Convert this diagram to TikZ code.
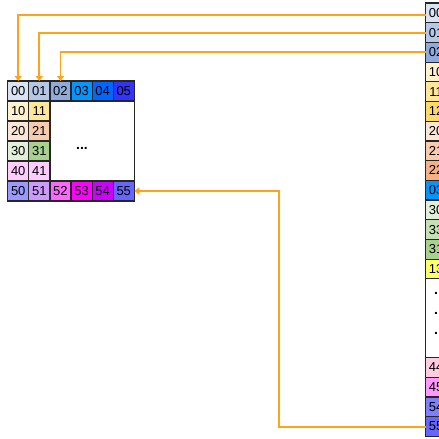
\documentclass[tikz,border=0pt]{standalone}
\usepackage{fontspec}
\setmainfont{Liberation Sans}
\usetikzlibrary{arrows.meta}
\definecolor{cA}{HTML}{DAE3F3}
\definecolor{cB}{HTML}{B4C7E7}
\definecolor{cC}{HTML}{8FAADC}
\definecolor{cD}{HTML}{0095FF}
\definecolor{cE}{HTML}{0066FF}
\definecolor{cF}{HTML}{3333FF}
\definecolor{cG}{HTML}{FFF2CC}
\definecolor{cH}{HTML}{FFE699}
\definecolor{cI}{HTML}{FFD966}
\definecolor{cJ}{HTML}{FBE5D6}
\definecolor{cK}{HTML}{F8CBAD}
\definecolor{cL}{HTML}{F4B183}
\definecolor{cM}{HTML}{E2F0D9}
\definecolor{cN}{HTML}{C5E0B4}
\definecolor{cO}{HTML}{A9D18E}
\definecolor{cP}{HTML}{FFFF66}
\definecolor{cQ}{HTML}{FFCCFF}
\definecolor{cR}{HTML}{FFCCE0}
\definecolor{cS}{HTML}{FF99FF}
\definecolor{cT}{HTML}{9999FF}
\definecolor{cU}{HTML}{CC99FF}
\definecolor{cV}{HTML}{FF66FF}
\definecolor{cW}{HTML}{FF00FF}
\definecolor{cX}{HTML}{CC00FF}
\definecolor{cY}{HTML}{6666FF}
\definecolor{cZ}{HTML}{8080FF}
\definecolor{arrc}{HTML}{FFA31A}
\begin{document}
\begin{tikzpicture}[x=1pt,y=-1pt,
  cellbox/.style={draw=black!85, line width=1.2pt, minimum width=21.1pt,
    inner sep=0pt, outer sep=0pt, anchor=north west,
    font=\fontsize{13}{15}\selectfont},
  lcell/.style={cellbox, minimum height=20pt},
  rcell/.style={cellbox, minimum height=19.7pt},
  arr/.style={draw=arrc, line width=1.9pt, -{Triangle[width=7pt,length=5pt]}}
]
\useasboundingbox[fill=white] (0,0) rectangle (439,439);
% ---------- left grid ----------
\node[lcell, fill=white, minimum width=84.4pt, minimum height=80pt] (Lgap) at (49.9,101) {};
\node[font=\fontsize{14}{15}\selectfont\bfseries] (Ldots) at (82,148.5) {...};
\foreach \c/\col [count=\j from 0] in {00/cA,01/cB,02/cC,03/cD,04/cE,05/cF}
  \node[lcell, fill=\col] (L\c) at ({7.7+21.1*\j},81) {\c};
\foreach \c/\col [count=\i from 1] in {10/cG,20/cJ,30/cM,40/cQ}
  \node[lcell, fill=\col] (L\c) at (7.7,{81+20*\i}) {\c};
\foreach \c/\col [count=\i from 1] in {11/cH,21/cK,31/cO,41/cQ}
  \node[lcell, fill=\col] (L\c) at (28.8,{81+20*\i}) {\c};
\foreach \c/\col [count=\j from 0] in {50/cT,51/cU,52/cV,53/cW,54/cX,55/cY}
  \node[lcell, fill=\col] (L\c) at ({7.7+21.1*\j},181) {\c};
% ---------- right column ----------
\foreach \c/\col [count=\k from 0] in {00/cA,01/cB,02/cC,10/cG,11/cH,12/cI,20/cJ,21/cK,22/cL,03/cD,30/cM,33/cN,31/cO,13/cP}
  \node[rcell, fill=\col] (R\c) at (425.5,{3+19.7*\k}) {\c};
\node[rcell, fill=white, minimum height=78.8pt] (Rgap) at (425.5,278.8) {};
\node[font=\fontsize{14}{20}\selectfont\bfseries, align=center] (Rdots) at (436,313) {.\\.\\.};
\foreach \c/\col [count=\k from 18] in {44/cR,45/cS,54/cZ,55/cY}
  \node[rcell, fill=\col] (R\c) at (425.5,{3+19.7*\k}) {\c};
% ---------- connectors ----------
\draw[arr] ([yshift=-2.5pt]R00.west) -| (L00.north);
\draw[arr] (R01.west) -| (L01.north);
\draw[arr] (R02.west) -| (L02.north);
\draw[arr] (R55.west) -- ++(-146.5,0) |- (L55.east);
\end{tikzpicture}
\end{document}
